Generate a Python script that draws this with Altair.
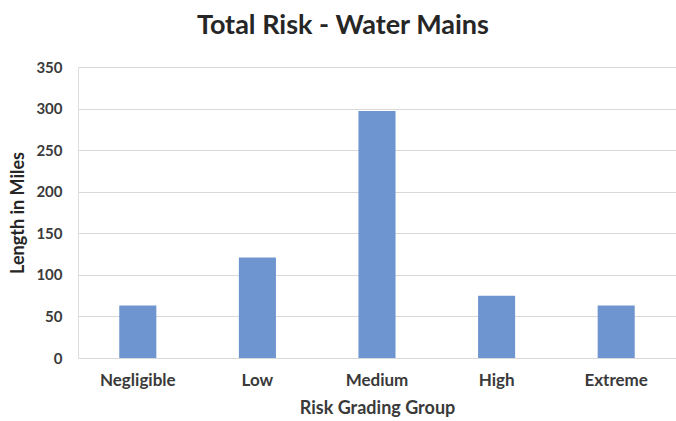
import altair as alt
import pandas as pd

categories = ["Negligible", "Low", "Medium", "High", "Extreme"]
lengths = [63, 121, 297, 75, 63]

df = pd.DataFrame({"group": categories, "miles": lengths})

FONT = "Lato"

chart = (
    alt.Chart(df)
    .mark_bar(color="#6F95D0")
    .encode(
        x=alt.X(
            "group:N",
            sort=categories,
            scale=alt.Scale(paddingInner=0.69, paddingOuter=0.345),
            axis=alt.Axis(
                title="Risk Grading Group",
                labelAngle=0,
                labelPadding=14,
                titlePadding=11,
                ticks=False,
                domain=False,
                grid=False,
                labelFont=FONT,
                labelFontSize=17,
                labelFontWeight="bold",
                labelColor="#3A3A3A",
                titleFont=FONT,
                titleFontSize=18,
                titleFontWeight="bold",
                titleColor="#3A3A3A",
            ),
        ),
        y=alt.Y(
            "miles:Q",
            scale=alt.Scale(domain=[0, 350], nice=False),
            axis=alt.Axis(
                title="Length in Miles",
                values=[0, 50, 100, 150, 200, 250, 300, 350],
                ticks=False,
                domain=False,
                labelPadding=16,
                titlePadding=8,
                gridColor="#D9D9D9",
                gridWidth=1,
                labelFont=FONT,
                labelFontSize=15,
                labelFontWeight="bold",
                labelColor="#3A3A3A",
                titleFont=FONT,
                titleFontSize=18,
                titleFontWeight="bold",
                titleColor="#262626",
            ),
        ),
    )
    .properties(
        width=598,
        height=291,
        autosize=alt.AutoSizeParams(type="none"),
        padding={"left": 78, "top": 67, "right": 0, "bottom": 63},
        title=alt.TitleParams(
            "Total Risk - Water Mains",
            font=FONT,
            fontSize=27,
            fontWeight="bold",
            color="#262626",
            offset=20,
            anchor="middle",
            frame="bounds",
        ),
    )
    .configure_view(strokeWidth=0)
    .configure(background="white")
)

chart.save("out.html", embed_options={"renderer": "svg", "actions": False})
